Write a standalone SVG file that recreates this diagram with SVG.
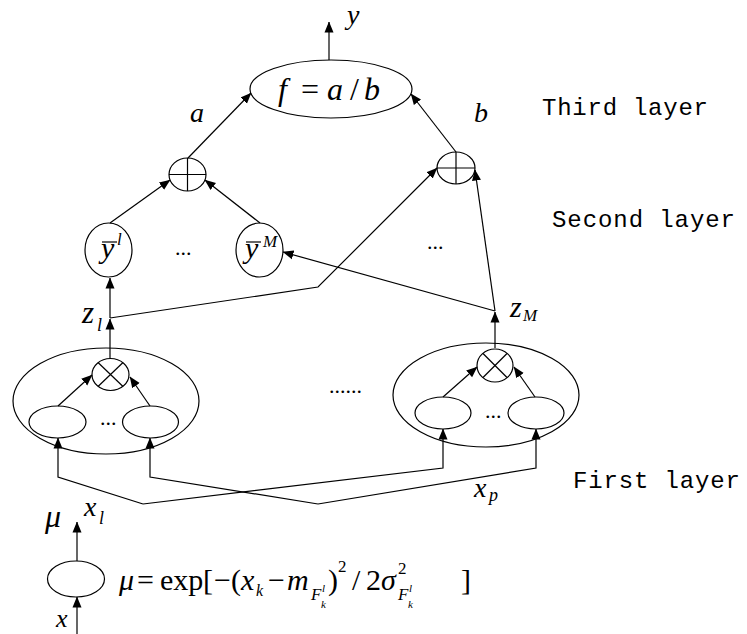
<svg xmlns="http://www.w3.org/2000/svg" width="747" height="634" viewBox="0 0 747 634">
<defs>
<marker id="ah" markerUnits="userSpaceOnUse" markerWidth="11" markerHeight="10" refX="10.5" refY="4.5" orient="auto" viewBox="0 0 11 9">
<path d="M0,0 L11,4.5 L0,9 z" fill="#000"/>
</marker>
<style>
.sh{fill:none;stroke:#000;stroke-width:1.2}
.ln{fill:none;stroke:#000;stroke-width:1.2;marker-end:url(#ah)}
.m{font-family:"Liberation Serif",serif;font-style:italic;fill:#000}
.r{font-family:"Liberation Serif",serif;font-style:normal;fill:#000}
.lay{font-family:"Liberation Mono",monospace;font-size:24px;fill:#000}
.dots{font-family:"Liberation Serif",serif;font-size:22px;fill:#000}
</style>
</defs>
<rect width="747" height="634" fill="#fff"/>

<g id="connectors">
<path class="ln" d="M329,60 L329,22"/>
<path class="ln" d="M188,158 L251,93"/>
<path class="ln" d="M456,152 L411,94"/>
<path class="ln" d="M110,223 L170,180"/>
<path class="ln" d="M260,223 L205,180"/>
<path class="ln" d="M110,318 L110,278"/>
<path class="ln" d="M110,318 L318,287 L437,168"/>
<path class="ln" d="M495,311 L283,252"/>
<path class="ln" d="M495,311 L475,170"/>
<path class="ln" d="M110,358 L110,319"/>
<path class="ln" d="M495,348 L495,312"/>
<path class="ln" d="M58,406 L92,375"/>
<path class="ln" d="M150,406 L130,377"/>
<path class="ln" d="M443,397 L477,367"/>
<path class="ln" d="M535,397 L514,367"/>
<path class="ln" d="M143,504 L58,477 L58,438"/>
<path class="ln" d="M143,504 L443,468 L443,429"/>
<path class="ln" d="M318,504 L150,477 L150,438"/>
<path class="ln" d="M318,504 L536,468 L536,429"/>
<path class="ln" d="M77,561 L77,522"/>
<path class="ln" d="M77,634 L77,597"/>
</g>

<g id="node-f">
<ellipse class="sh" cx="331" cy="89" rx="81" ry="29"/>
<text class="m" x="278" y="100" font-size="32">f</text>
<text class="r" x="301" y="100" font-size="32">=</text>
<text class="m" x="327" y="100" font-size="32">a</text>
<text class="r" x="350" y="100" font-size="32">/</text>
<text class="m" x="364" y="100" font-size="32">b</text>
</g>

<g id="node-sum-a">
<ellipse class="sh" cx="187.5" cy="174.5" rx="18.5" ry="16.5"/>
<line class="sh" x1="187.5" y1="158" x2="187.5" y2="191"/>
<line class="sh" x1="169" y1="174.5" x2="206" y2="174.5"/>
</g>

<g id="node-sum-b">
<ellipse class="sh" cx="456" cy="168" rx="19" ry="16"/>
<line class="sh" x1="456" y1="152" x2="456" y2="184"/>
<line class="sh" x1="437" y1="168" x2="475" y2="168"/>
</g>

<g id="node-y1">
<ellipse class="sh" cx="108.5" cy="250" rx="23.5" ry="27"/>
<line class="sh" x1="102" y1="242" x2="117" y2="242"/>
<text class="m" x="101" y="258" font-size="30">y</text>
<text class="m" x="117" y="245" font-size="17">l</text>
</g>

<g id="node-yM">
<ellipse class="sh" cx="259.5" cy="250" rx="23.5" ry="27"/>
<line class="sh" x1="246" y1="242" x2="261" y2="242"/>
<text class="m" x="245" y="258" font-size="30">y</text>
<text class="m" x="263" y="247" font-size="17">M</text>
</g>

<g id="node-rule1">
<ellipse class="sh" cx="106" cy="401" rx="93" ry="53"/>
<ellipse class="sh" cx="110.5" cy="374.5" rx="18.5" ry="16"/>
<line class="sh" x1="98" y1="362.5" x2="123" y2="386.5"/>
<line class="sh" x1="123" y1="362.5" x2="98" y2="386.5"/>
<ellipse class="sh" cx="57.5" cy="422" rx="28.5" ry="16"/>
<ellipse class="sh" cx="150.5" cy="422" rx="28" ry="16"/>
<text class="dots" x="100" y="425">...</text>
</g>

<g id="node-ruleM">
<ellipse class="sh" cx="486" cy="395" rx="93" ry="52"/>
<ellipse class="sh" cx="495" cy="365.5" rx="18" ry="16.5"/>
<line class="sh" x1="483" y1="353.5" x2="507" y2="377.5"/>
<line class="sh" x1="507" y1="353.5" x2="483" y2="377.5"/>
<ellipse class="sh" cx="443" cy="413" rx="28" ry="16"/>
<ellipse class="sh" cx="536" cy="413" rx="28" ry="16"/>
<text class="dots" x="485" y="418">...</text>
</g>

<g id="node-mf">
<ellipse class="sh" cx="76" cy="579" rx="28.5" ry="18"/>
</g>

<g id="labels">
<text class="m" x="347" y="24" font-size="28">y</text>
<text class="m" x="190" y="122" font-size="28">a</text>
<text class="m" x="474" y="122" font-size="28">b</text>
<text class="dots" x="175" y="255">...</text>
<text class="dots" x="427" y="249">...</text>
<text class="dots" x="329" y="393">......</text>
<text class="m" x="82" y="323" font-size="31">z</text>
<text class="m" x="97" y="331" font-size="18">l</text>
<text class="m" x="510" y="317" font-size="30">z</text>
<text class="m" x="523" y="321" font-size="17">M</text>
<text class="m" x="84" y="516" font-size="28">x</text>
<text class="m" x="99" y="524" font-size="18">l</text>
<text class="m" x="474" y="497" font-size="28">x</text>
<text class="m" x="489" y="501" font-size="18">p</text>
<text class="m" x="45" y="527" font-size="32">μ</text>
<text class="m" x="56" y="627" font-size="26">x</text>
<text class="lay" x="542" y="115" textLength="166" lengthAdjust="spacing">Third layer</text>
<text class="lay" x="552" y="227" textLength="183" lengthAdjust="spacing">Second layer</text>
<text class="lay" x="573" y="488" textLength="167" lengthAdjust="spacing">First layer</text>
</g>

<g id="formula">
<text class="m" x="119" y="590" font-size="30">μ</text>
<text class="r" x="137" y="590" font-size="30">=</text>
<text class="r" x="160" y="590" font-size="30">exp</text>
<text class="r" x="203" y="590" font-size="30">[</text>
<text class="r" x="214" y="590" font-size="30">−</text>
<text class="r" x="231" y="590" font-size="30">(</text>
<text class="m" x="241" y="590" font-size="30">x</text>
<text class="m" x="256" y="596" font-size="16">k</text>
<text class="r" x="268" y="590" font-size="30">−</text>
<text class="m" x="287" y="590" font-size="30">m</text>
<text class="m" x="311" y="600" font-size="17">F</text>
<text class="m" x="321" y="608" font-size="11">k</text>
<text class="m" x="322" y="592" font-size="11">l</text>
<text class="r" x="328" y="590" font-size="30">)</text>
<text class="r" x="338" y="572" font-size="17">2</text>
<text class="r" x="352" y="590" font-size="30">/</text>
<text class="r" x="366" y="590" font-size="30">2</text>
<text class="m" x="381" y="590" font-size="30">σ</text>
<text class="r" x="398" y="574" font-size="17">2</text>
<text class="m" x="398" y="600" font-size="17">F</text>
<text class="m" x="408" y="608" font-size="11">k</text>
<text class="m" x="409" y="592" font-size="11">l</text>
<text class="r" x="461" y="590" font-size="30">]</text>
</g>
</svg>
